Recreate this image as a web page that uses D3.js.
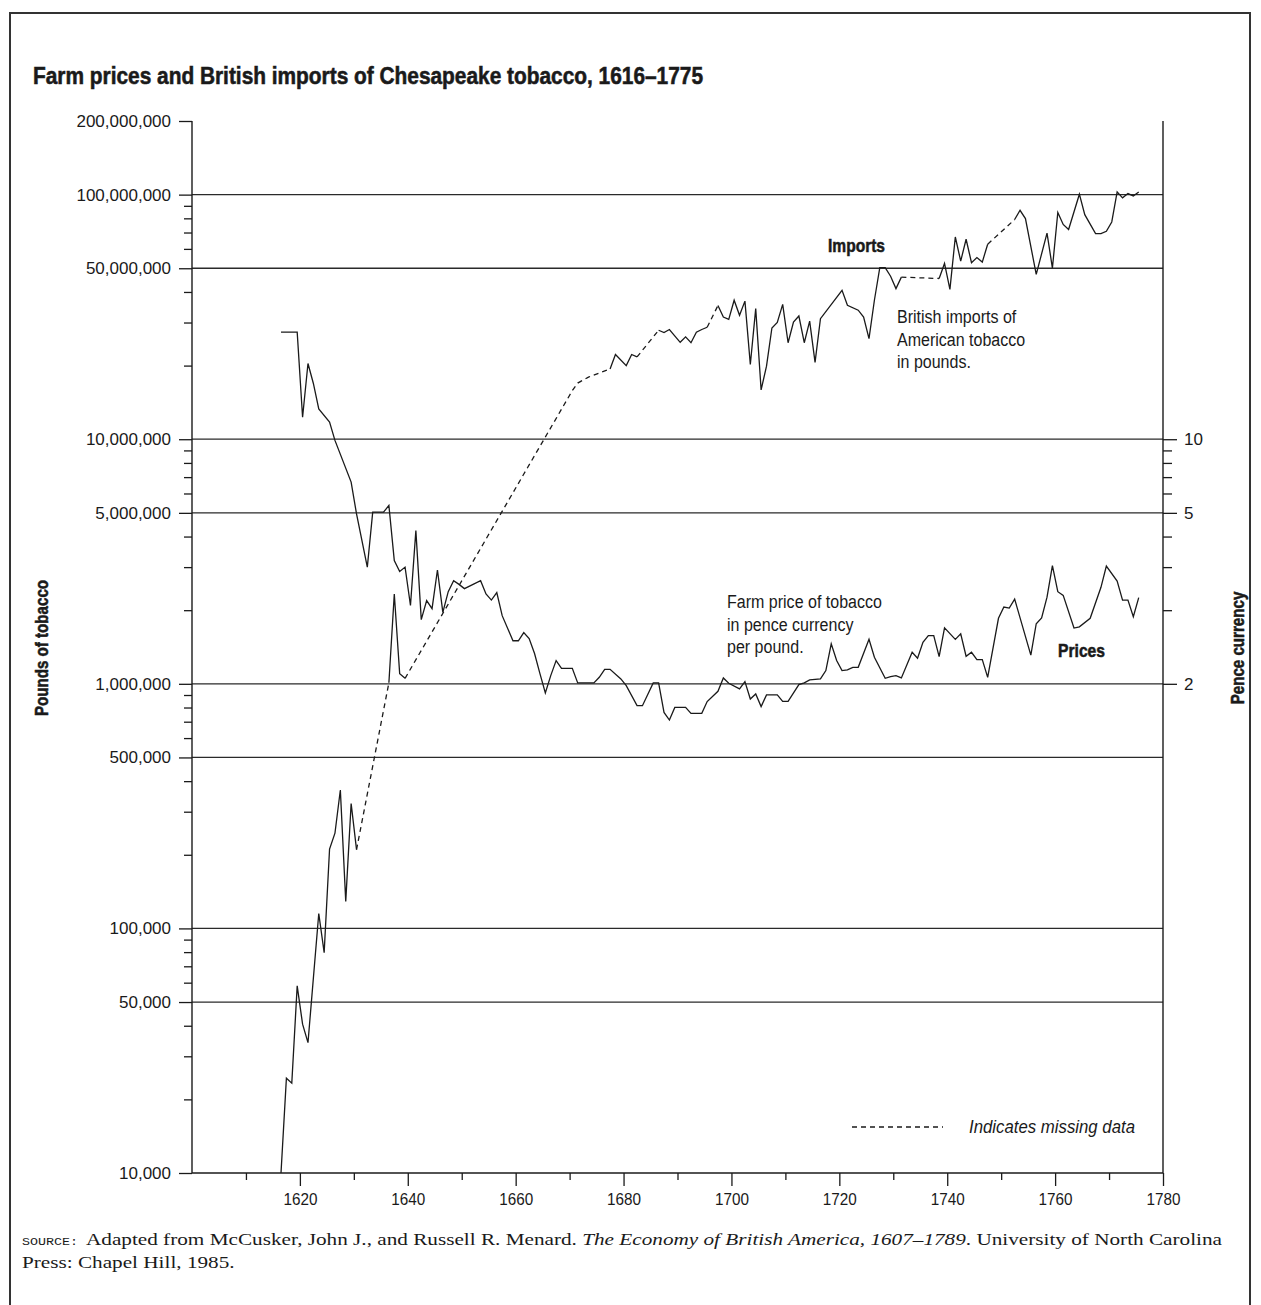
<!DOCTYPE html>
<html><head><meta charset="utf-8">
<script src="https://cdn.jsdelivr.net/npm/d3@7"></script>
<style>
html,body{margin:0;padding:0;background:#fff;}
svg{display:block;}
text{font-family:"Liberation Sans",Arial,sans-serif;fill:#1a1a1a;}
.serif{font-family:"Liberation Serif","Times New Roman",serif;}
.heavy{stroke:#1a1a1a;stroke-width:0.55px;}
</style></head><body>
<svg id="chart" width="1261" height="1305"></svg>
<script>
// ---------------- DATA ----------------
const title = "Farm prices and British imports of Chesapeake tobacco, 1616\u20131775";
const leftTickValues = [10000, 50000, 100000, 500000, 1000000, 5000000, 10000000, 50000000, 100000000, 200000000];
const gridValues = [50000, 100000, 500000, 1000000, 5000000, 10000000, 50000000, 100000000];
const leftMinorValues = [20000,30000,40000,60000,70000,80000,90000,
  200000,300000,400000,600000,700000,800000,900000,
  2000000,3000000,4000000,6000000,7000000,8000000,9000000,
  20000000,30000000,40000000,60000000,70000000,80000000,90000000];
const rightTickValues = [10, 5, 1];          // pence positions of the labelled ticks
const rightTickLabels = ["10", "5", "2"];    // labels as printed in the original
const rightMinorValues = [9, 8, 7, 6, 4, 3, 2];
const xMajorTicks = [1620,1640,1660,1680,1700,1720,1740,1760,1780];
const xMinorTicks = [1610,1630,1650,1670,1690,1710,1730,1750,1770];

// Farm price of tobacco, pence currency per pound
const priceYears = [1616,1619,1620,1621,1622,1623,1625,1626,1629,1630,1632,1633,1635,1636,1637,1638,1639,1640,1641,1642,1643,1644,1645,1646,1647,1648,1649,1650,1653,1654,1655,1656,1657,1659,1660,1661,1662,1663,1664,1665,1666,1667,1668,1670,1671,1674,1675,1676,1677,1679,1680,1682,1683,1685,1686,1687,1688,1689,1691,1692,1694,1695,1697,1698,1699,1701,1702,1703,1704,1705,1706,1708,1709,1710,1712,1713,1714,1716,1717,1718,1719,1720,1721,1722,1723,1725,1726,1728,1729,1730,1731,1733,1734,1735,1736,1737,1738,1739,1741,1742,1743,1744,1745,1746,1747,1749,1750,1751,1752,1755,1756,1757,1758,1759,1760,1761,1763,1764,1766,1768,1769,1771,1772,1773,1774,1775];
const pricePence = [27.4,27.4,12.3,20.4,16.9,13.3,11.75,9.89,6.68,4.95,3.0,5.03,5.03,5.36,3.19,2.88,3.0,2.09,4.23,1.83,2.19,2.03,2.92,1.96,2.38,2.64,2.55,2.45,2.64,2.33,2.2,2.36,1.9,1.5,1.5,1.62,1.53,1.33,1.10,0.918,1.08,1.245,1.157,1.157,1.009,1.009,1.063,1.146,1.146,1.047,0.983,0.814,0.814,1.009,1.009,0.764,0.711,0.801,0.801,0.757,0.757,0.846,0.932,1.057,1.005,0.953,1.021,0.867,0.909,0.807,0.901,0.901,0.848,0.848,0.992,1.009,1.038,1.047,1.133,1.456,1.245,1.133,1.14,1.168,1.168,1.52,1.284,1.053,1.07,1.08,1.057,1.346,1.272,1.478,1.575,1.575,1.292,1.693,1.52,1.6,1.296,1.346,1.256,1.256,1.063,1.853,2.06,2.04,2.22,1.31,1.76,1.86,2.26,3.045,2.38,2.30,1.69,1.71,1.853,2.48,3.03,2.63,2.2,2.2,1.88,2.25];

// British imports of American tobacco, pounds
const importYears = [1616,1617,1618,1619,1620,1621,1623,1624,1625,1626,1627,1628,1629,1630,1636,1637,1638,1639,1670,1671,1673,1675,1677,1678,1680,1681,1682,1686,1687,1688,1690,1691,1692,1693,1694,1695,1697,1698,1699,1700,1701,1702,1703,1704,1705,1706,1707,1708,1709,1710,1711,1712,1713,1714,1715,1716,1720,1721,1723,1724,1725,1726,1727,1728,1729,1730,1731,1738,1739,1740,1741,1742,1743,1744,1745,1746,1747,1752,1753,1754,1756,1758,1759,1760,1761,1762,1764,1765,1767,1768,1769,1770,1771,1772,1773,1774,1775];
const importPounds = [10000,24400,23300,58200,40600,34100,115000,79600,211000,245000,368000,129000,324000,210000,1010000,2330000,1100000,1053000,15800000,16960000,17950000,18650000,19360000,22200000,20000000,22200000,21700000,27900000,27300000,28100000,24900000,26200000,24800000,27400000,28100000,28700000,35200000,31600000,30900000,37000000,32100000,36700000,20200000,34200000,15900000,19900000,28500000,30000000,35600000,24800000,30100000,31900000,24800000,30400000,20600000,31100000,40600000,35300000,33700000,31600000,25800000,37000000,50300000,50300000,46400000,41300000,46000000,45400000,52300000,41000000,67100000,53500000,65700000,52700000,55300000,53000000,62700000,79100000,86300000,79800000,47200000,69600000,50100000,84500000,75500000,72000000,100400000,82800000,69300000,69300000,70800000,77300000,102600000,97000000,101000000,98800000,102600000];
// years whose connecting segment from the previous observation is drawn dashed (missing data)
const importMissingBefore = [1636,1670,1671,1673,1675,1677,1686,1697,1738,1752];

// ---------------- CHART ----------------
const svg = d3.select("#chart");
const x = d3.scaleLinear().domain([1600, 1780]).range([192, 1163]);
const y = d3.scaleLog().domain([1e4, 2e8]).range([1173, 121]);
const yP = d3.scaleLog().domain([0.01, 200]).range([1173, 121]);
const mid = 0.5; // annual values plotted at mid-year
const ink = "#1a1a1a";
const x0 = x.range()[0], x1 = x.range()[1];

function condense(sel, k){
  sel.each(function(){
    const w = this.getComputedTextLength();
    this.setAttribute("textLength", (w * k).toFixed(1));
    this.setAttribute("lengthAdjust", "spacingAndGlyphs");
  });
}
function fitTo(sel, target){
  sel.attr("textLength", target).attr("lengthAdjust", "spacingAndGlyphs");
}

// frame
svg.append("rect").attr("x", 10).attr("y", 13).attr("width", 1240).attr("height", 1310)
  .attr("fill", "none").attr("stroke", "#333").attr("stroke-width", 2);

// title
svg.append("text").attr("class", "heavy").attr("x", 33).attr("y", 84).attr("font-size", 23).attr("font-weight", "bold")
  .text(title).call(fitTo, 670);

// gridlines
svg.append("g").selectAll("line").data(gridValues).join("line")
  .attr("x1", x0).attr("x2", x1).attr("y1", d => y(d)).attr("y2", d => y(d))
  .attr("stroke", "#2a2a2a").attr("stroke-width", 1.3);

// left axis (major)
const gL = svg.append("g").attr("transform", `translate(${x0},0)`)
  .call(d3.axisLeft(y).tickValues(leftTickValues).tickFormat(d3.format(",")).tickSize(13).tickPadding(8));
gL.select(".domain").remove();
gL.selectAll("line").attr("stroke", ink).attr("stroke-width", 1.3);
gL.selectAll("text").attr("font-size", 17).attr("font-family", "Liberation Sans, Arial, sans-serif").attr("fill", ink);
// left axis (minor)
const gLm = svg.append("g").attr("transform", `translate(${x0},0)`)
  .call(d3.axisLeft(y).tickValues(leftMinorValues).tickFormat("").tickSize(8));
gLm.select(".domain").remove();
gLm.selectAll("line").attr("stroke", ink).attr("stroke-width", 1.3);

// right axis
const gR = svg.append("g").attr("transform", `translate(${x1},0)`)
  .call(d3.axisRight(yP).tickValues(rightTickValues).tickFormat((d, i) => rightTickLabels[i]).tickSize(14).tickPadding(7));
gR.select(".domain").remove();
gR.selectAll("line").attr("stroke", ink).attr("stroke-width", 1.3);
gR.selectAll("text").attr("font-size", 17).attr("font-family", "Liberation Sans, Arial, sans-serif").attr("fill", ink);
const gRm = svg.append("g").attr("transform", `translate(${x1},0)`)
  .call(d3.axisRight(yP).tickValues(rightMinorValues).tickFormat("").tickSize(9));
gRm.select(".domain").remove();
gRm.selectAll("line").attr("stroke", ink).attr("stroke-width", 1.3);

// bottom axis
const yB = y(1e4);
const gB = svg.append("g").attr("transform", `translate(0,${yB})`)
  .call(d3.axisBottom(x).tickValues(xMajorTicks).tickFormat(d3.format("d")).tickSize(13).tickPadding(7));
gB.select(".domain").remove();
gB.selectAll("line").attr("stroke", ink).attr("stroke-width", 1.3);
gB.selectAll("text").attr("font-size", 17).attr("font-family", "Liberation Sans, Arial, sans-serif").attr("fill", ink).call(condense, 0.9);
const gBm = svg.append("g").attr("transform", `translate(0,${yB})`)
  .call(d3.axisBottom(x).tickValues(xMinorTicks).tickFormat("").tickSize(7));
gBm.select(".domain").remove();
gBm.selectAll("line").attr("stroke", ink).attr("stroke-width", 1.3);

// frame lines of the plot
const yTop = y(2e8);
svg.append("line").attr("x1", x0).attr("x2", x0).attr("y1", yTop).attr("y2", yB).attr("stroke", ink).attr("stroke-width", 1.4);
svg.append("line").attr("x1", x1).attr("x2", x1).attr("y1", yTop).attr("y2", yB).attr("stroke", ink).attr("stroke-width", 1.4);
svg.append("line").attr("x1", x0).attr("x2", x1).attr("y1", yB).attr("y2", yB).attr("stroke", ink).attr("stroke-width", 1.4);

// prices line
const prices = priceYears.map((yr, i) => ({year: yr, v: pricePence[i]}));
svg.append("path").datum(prices)
  .attr("d", d3.line().x(d => x(d.year + mid)).y(d => yP(d.v)))
  .attr("fill", "none").attr("stroke", ink).attr("stroke-width", 1.3).attr("stroke-linejoin", "miter");

// imports line: split into solid / dashed runs
const imports = importYears.map((yr, i) => ({year: yr, v: importPounds[i]}));
const runs = [];
for (let i = 1; i < imports.length; i++) {
  const dashed = importMissingBefore.includes(imports[i].year);
  const last = runs[runs.length - 1];
  if (last && last.dashed === dashed) last.pts.push(imports[i]);
  else runs.push({dashed, pts: [imports[i - 1], imports[i]]});
}
const impLine = d3.line().x(d => x(d.year + mid)).y(d => y(d.v));
svg.append("g").selectAll("path").data(runs).join("path")
  .attr("d", r => impLine(r.pts))
  .attr("fill", "none").attr("stroke", ink).attr("stroke-width", 1.3)
  .attr("stroke-dasharray", r => r.dashed ? "5,4" : null);

// annotations
const regK = 0.89;
svg.append("text").attr("class", "heavy").attr("x", 828).attr("y", 252).attr("font-size", 18.5).attr("font-weight", "bold")
  .text("Imports").call(fitTo, 57);
svg.append("text").attr("class", "heavy").attr("x", 1058).attr("y", 657).attr("font-size", 18.5).attr("font-weight", "bold")
  .text("Prices").call(fitTo, 47);

const impNote = ["British imports of", "American tobacco", "in pounds."];
svg.append("g").selectAll("text").data(impNote).join("text")
  .attr("x", 897).attr("y", (d, i) => 322.7 + i * 22.8).attr("font-size", 18).text(d => d)
  .call(condense, regK);
const priceNote = ["Farm price of tobacco", "in pence currency", "per pound."];
svg.append("g").selectAll("text").data(priceNote).join("text")
  .attr("x", 727).attr("y", (d, i) => 608 + i * 22.6).attr("font-size", 18).text(d => d)
  .call(condense, regK);

// axis titles
svg.append("text").attr("class", "heavy").attr("transform", "translate(48,648) rotate(-90)").attr("text-anchor", "middle")
  .attr("font-size", 18).attr("font-weight", "bold").text("Pounds of tobacco").call(condense, 0.84);
svg.append("text").attr("class", "heavy").attr("transform", "translate(1244,648) rotate(-90)").attr("text-anchor", "middle")
  .attr("font-size", 18).attr("font-weight", "bold").text("Pence currency").call(condense, 0.84);

// legend
svg.append("line").attr("x1", 852).attr("x2", 943).attr("y1", 1127).attr("y2", 1127)
  .attr("stroke", ink).attr("stroke-width", 1.3).attr("stroke-dasharray", "5,4");
svg.append("text").attr("x", 969).attr("y", 1133).attr("font-size", 17.5).attr("font-style", "italic")
  .text("Indicates missing data").call(fitTo, 166);

// source
const src1 = svg.append("text").attr("class", "serif").attr("x", 22).attr("y", 1245).attr("font-size", 17.5);
src1.append("tspan").attr("font-family", "Liberation Mono, Courier New, monospace").attr("font-size", 11).text("SOURCE: ");
src1.append("tspan").text("Adapted from McCusker, John J., and Russell R. Menard. ");
src1.append("tspan").attr("font-style", "italic").text("The Economy of British America, 1607\u20131789");
src1.append("tspan").text(". University of North Carolina");
const natural1 = src1.node().getComputedTextLength();
const kSrc = 1200 / natural1;
src1.call(fitTo, 1200);
svg.append("text").attr("class", "serif").attr("x", 22).attr("y", 1268).attr("font-size", 17.5)
  .text("Press: Chapel Hill, 1985.").call(condense, kSrc);
</script>
</body></html>
